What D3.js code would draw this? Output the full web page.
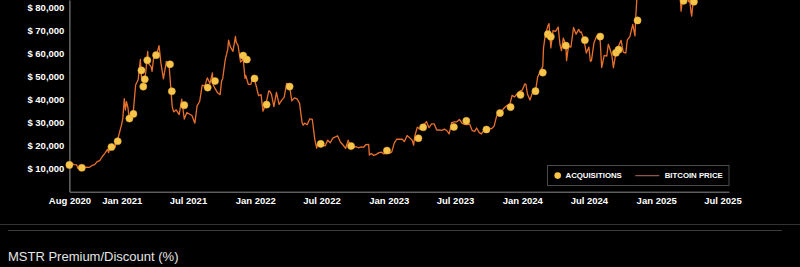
<!DOCTYPE html>
<html>
<head>
<meta charset="utf-8">
<script src="https://cdn.jsdelivr.net/npm/d3@7"></script>
<style>
  html, body { margin: 0; padding: 0; background: #000; }
  svg { display: block; }
</style>
</head>
<body>
<svg id="chart" width="800" height="267"></svg>
<script>
// ---- DATA ----
const xTickLabels = ["Aug 2020","Jan 2021","Jul 2021","Jan 2022","Jul 2022","Jan 2023","Jul 2023","Jan 2024","Jul 2024","Jan 2025","Jul 2025"];
const xTickDates = ["2020-08-11","2021-01-01","2021-07-01","2022-01-01","2022-07-01","2023-01-01","2023-07-01","2024-01-01","2024-07-01","2025-01-01","2025-07-01"];
const yTickValues = [10000,20000,30000,40000,50000,60000,70000,80000];
const legendLabels = ["ACQUISITIONS","BITCOIN PRICE"];
const subTitle = "MSTR Premium/Discount (%)";

// Bitcoin price (USD)
const btcPrice = [
["2020-08-11",11400],["2020-08-17",12250],["2020-08-24",11750],["2020-08-31",11650],["2020-09-03",10200],["2020-09-07",10100],
["2020-09-14",10650],["2020-09-21",10450],["2020-09-28",10700],["2020-10-05",10600],["2020-10-12",11400],["2020-10-19",11750],
["2020-10-26",13050],["2020-11-02",13550],["2020-11-09",15300],["2020-11-16",16700],["2020-11-23",18400],["2020-11-26",17000],
["2020-11-30",19700],["2020-12-07",19150],["2020-12-14",19250],["2020-12-17",22800],["2020-12-21",22700],["2020-12-28",27000],
["2021-01-01",29400],["2021-01-04",31900],["2021-01-08",40500],["2021-01-11",35500],["2021-01-14",39200],["2021-01-18",36600],
["2021-01-22",30800],["2021-01-25",32300],["2021-02-01",33500],["2021-02-08",46400],["2021-02-15",48700],["2021-02-21",57500],
["2021-02-24",49700],["2021-03-01",49600],["2021-03-05",48900],["2021-03-08",52300],["2021-03-13",61000],["2021-03-15",55800],
["2021-03-22",54500],["2021-03-25",52300],["2021-03-29",57800],["2021-04-05",58900],["2021-04-13",63500],["2021-04-18",56100],
["2021-04-25",49100],["2021-05-03",56600],["2021-05-10",55800],["2021-05-13",49700],["2021-05-19",37000],["2021-05-23",34700],
["2021-05-30",35600],["2021-06-07",33500],["2021-06-14",40200],["2021-06-21",31600],["2021-06-28",34400],["2021-07-05",33800],
["2021-07-12",33100],["2021-07-20",29800],["2021-07-26",37300],["2021-08-02",39200],["2021-08-09",46300],["2021-08-16",45900],
["2021-08-23",49500],["2021-08-30",47000],["2021-09-06",51700],["2021-09-07",46800],["2021-09-13",44900],["2021-09-20",43000],
["2021-09-27",42200],["2021-10-01",48200],["2021-10-04",49100],["2021-10-11",57400],["2021-10-18",62000],["2021-10-20",65900],
["2021-10-25",63000],["2021-11-01",61000],["2021-11-08",67500],["2021-11-10",64900],["2021-11-15",63600],["2021-11-22",56300],
["2021-11-29",57800],["2021-12-04",49300],["2021-12-06",50600],["2021-12-13",46700],["2021-12-20",46700],["2021-12-27",50600],
["2022-01-03",46400],["2022-01-10",41800],["2022-01-17",42200],["2022-01-22",35000],["2022-01-31",38500],["2022-02-07",43800],
["2022-02-10",43600],["2022-02-14",42500],["2022-02-21",37000],["2022-02-28",43200],["2022-03-07",38000],["2022-03-14",39700],
["2022-03-21",41000],["2022-03-28",47100],["2022-04-04",46600],["2022-04-11",39500],["2022-04-18",40800],["2022-04-25",40400],
["2022-05-02",38500],["2022-05-09",30000],["2022-05-12",28900],["2022-05-16",29800],["2022-05-23",29100],["2022-05-30",31700],
["2022-06-06",31400],["2022-06-13",22500],["2022-06-18",19000],["2022-06-20",20500],["2022-06-27",20700],["2022-07-04",20200],
["2022-07-11",19900],["2022-07-18",22400],["2022-07-25",21300],["2022-08-01",23300],["2022-08-08",23800],["2022-08-14",24300],
["2022-08-22",21500],["2022-08-29",20300],["2022-09-05",18800],["2022-09-12",22400],["2022-09-19",19500],["2022-09-26",19100],
["2022-10-03",19600],["2022-10-10",19100],["2022-10-17",19500],["2022-10-24",19300],["2022-10-31",20500],["2022-11-07",20600],
["2022-11-09",15900],["2022-11-14",16600],["2022-11-21",15800],["2022-11-28",16200],["2022-12-05",17000],["2022-12-12",17200],
["2022-12-19",16400],["2022-12-26",16900],["2023-01-02",16700],["2023-01-09",17200],["2023-01-16",21100],["2023-01-23",22900],
["2023-01-30",22800],["2023-02-06",22900],["2023-02-13",21800],["2023-02-20",24400],["2023-02-27",23500],["2023-03-06",22400],
["2023-03-10",20200],["2023-03-13",24100],["2023-03-20",28100],["2023-03-27",27100],["2023-04-03",28200],["2023-04-10",29700],
["2023-04-14",30500],["2023-04-21",27800],["2023-04-28",29500],["2023-05-05",29500],["2023-05-12",26800],["2023-05-19",26900],
["2023-05-26",26700],["2023-06-02",27200],["2023-06-09",26500],["2023-06-15",25100],["2023-06-22",30000],["2023-06-29",30400],
["2023-07-06",30400],["2023-07-13",31400],["2023-07-20",29800],["2023-07-27",29300],["2023-08-03",29200],["2023-08-10",29400],
["2023-08-17",26600],["2023-08-24",26200],["2023-08-29",27700],["2023-09-05",25800],["2023-09-11",25100],["2023-09-18",26800],
["2023-09-25",26300],["2023-10-02",27500],["2023-10-09",27400],["2023-10-16",28500],["2023-10-23",33000],["2023-10-30",34500],
["2023-11-06",35000],["2023-11-13",36500],["2023-11-20",37500],["2023-11-27",37200],["2023-12-04",41900],["2023-12-11",41200],
["2023-12-18",42600],["2023-12-25",43600],["2024-01-01",44200],["2024-01-08",46900],["2024-01-11",46600],["2024-01-15",42500],
["2024-01-22",39900],["2024-01-29",43300],["2024-02-05",42600],["2024-02-12",49900],["2024-02-19",52300],["2024-02-26",54500],
["2024-02-28",62500],["2024-03-04",68300],["2024-03-11",72100],["2024-03-14",73100],["2024-03-19",62500],["2024-03-25",70000],
["2024-04-01",69700],["2024-04-08",71600],["2024-04-13",64000],["2024-04-17",61300],["2024-04-22",66800],["2024-04-29",63800],
["2024-05-01",57000],["2024-05-06",63200],["2024-05-13",62900],["2024-05-20",71400],["2024-05-27",68500],["2024-06-03",70600],
["2024-06-07",69300],["2024-06-10",69500],["2024-06-17",66500],["2024-06-24",60300],["2024-07-01",62900],["2024-07-05",56700],
["2024-07-08",57000],["2024-07-15",64800],["2024-07-22",67600],["2024-07-29",66800],["2024-08-01",65300],["2024-08-05",54000],
["2024-08-12",59300],["2024-08-19",59000],["2024-08-23",64100],["2024-08-26",62900],["2024-09-02",59100],["2024-09-06",53900],
["2024-09-13",60500],["2024-09-20",63200],["2024-09-27",65800],["2024-10-03",60700],["2024-10-10",60300],["2024-10-14",66000],
["2024-10-21",67400],["2024-10-29",72700],["2024-11-04",67800],["2024-11-06",75600],["2024-11-11",88700],["2024-11-18",90500],
["2024-11-22",98900],["2024-12-02",96000],["2024-12-09",97000],["2024-12-16",106000],["2024-12-23",94700],["2024-12-30",92800],
["2025-01-06",102000],["2025-01-13",94500],["2025-01-20",102000],["2025-01-27",102000],["2025-02-03",101000],["2025-02-10",97500],
["2025-02-17",95500],["2025-02-24",91500],["2025-02-28",84300],["2025-03-03",86200],["2025-03-06",90000],["2025-03-10",78500],
["2025-03-14",84000],["2025-03-17",82700],["2025-03-20",84200],["2025-03-24",87500],["2025-03-28",84300],["2025-03-31",82500],
["2025-04-03",83200],["2025-04-06",78200],["2025-04-08",76300],["2025-04-10",79600],["2025-04-14",84500],["2025-04-18",84500],
["2025-04-22",93500],["2025-04-28",95000],["2025-05-05",94700],["2025-05-12",102800]
];

// Acquisitions: date and average purchase price (USD)
const acqDates = ["2020-08-11","2020-09-14","2020-12-04","2020-12-21","2021-01-22","2021-02-02","2021-02-24","2021-03-01","2021-03-05","2021-03-12",
  "2021-04-05","2021-05-13","2021-05-18","2021-06-21","2021-08-24","2021-09-13","2021-11-29","2021-12-09","2021-12-30","2022-02-01",
  "2022-04-05","2022-06-29","2022-09-20","2022-12-27","2023-03-23","2023-04-05","2023-06-28","2023-08-01","2023-09-25","2023-11-01",
  "2023-11-30","2023-12-27","2024-02-06","2024-02-26","2024-03-11","2024-03-19","2024-04-29","2024-06-20","2024-08-01","2024-09-13",
  "2024-09-20","2024-11-11","2025-03-17","2025-04-14"];
const acqPrices = [11652,10419,19427,21925,31808,33810,52765,45710,48888,57146,
  59339,55387,43663,37617,45294,48099,59187,57477,49229,37865,
  45714,20817,19851,17871,23238,28016,28136,30835,27053,34204,
  36785,42110,43723,51813,68477,67382,63500,65883,67455,60408,
  61750,74463,82981,82618];

// ---- CHART ----
const parse = d3.utcParse("%Y-%m-%d");
const svg = d3.select("#chart");
const W = 800, H = 267;
svg.append("rect").attr("width", W).attr("height", H).attr("fill", "#000");

const x = d3.scaleUtc()
  .domain([parse("2020-08-11"), parse("2025-07-19")])
  .range([69.4, 729]);
const y = d3.scaleLinear()
  .domain([0, 83350])
  .range([191.7, 0]);

const fontFamily = "'Liberation Sans', Arial, Helvetica, sans-serif";

// X axis
const xAxis = d3.axisBottom(x)
  .tickValues(xTickDates.map(parse))
  .tickFormat((d, i) => xTickLabels[i])
  .tickSize(0).tickSizeOuter(0).tickPadding(6);
const gx = svg.append("g").attr("transform", `translate(0,${y(0)})`).call(xAxis);
gx.select(".domain").attr("stroke", "#8a8a8a").attr("stroke-width", 1);
gx.selectAll("text").attr("fill", "#fff").attr("font-size", "9.5px")
  .attr("font-weight", "bold").attr("font-family", fontFamily);

// Y axis
const yAxis = d3.axisLeft(y)
  .tickValues(yTickValues)
  .tickFormat(d => "$ " + d3.format(",")(d))
  .tickSize(0).tickSizeOuter(0).tickPadding(5);
const gy = svg.append("g").attr("transform", `translate(${x.range()[0]},0)`).call(yAxis);
gy.select(".domain").attr("stroke", "#9a9a9a").attr("stroke-width", 1);
gy.selectAll("text").attr("fill", "#fff").attr("font-size", "9.5px")
  .attr("font-weight", "bold").attr("font-family", fontFamily);

// Bitcoin price line
const line = d3.line()
  .x(d => x(parse(d[0])))
  .y(d => y(d[1]));
svg.append("path")
  .datum(btcPrice)
  .attr("fill", "none")
  .attr("stroke", "#e8702c")
  .attr("stroke-width", 1.3)
  .attr("stroke-linejoin", "round")
  .attr("d", line);

// Acquisition dots
svg.append("g").selectAll("circle")
  .data(acqDates.map((d, i) => ({date: parse(d), price: acqPrices[i]})))
  .join("circle")
  .attr("cx", d => x(d.date))
  .attr("cy", d => y(d.price))
  .attr("r", 3.6)
  .attr("fill", "#f7c549")
  .attr("stroke", "#e0a83a")
  .attr("stroke-width", 0.5);

// Legend
const lg = svg.append("g");
lg.append("rect").attr("x", 547.5).attr("y", 165.5).attr("width", 181.5).attr("height", 20)
  .attr("fill", "#000").attr("stroke", "#4a4a4a").attr("stroke-width", 1);
lg.append("circle").attr("cx", 557.7).attr("cy", 175.6).attr("r", 3.3).attr("fill", "#f7c549");
lg.append("text").attr("x", 565.5).attr("y", 178.4).text(legendLabels[0])
  .attr("fill", "#fff").attr("font-size", "7.8px").attr("font-weight", "bold").attr("font-family", fontFamily);
lg.append("line").attr("x1", 635.3).attr("x2", 659.3).attr("y1", 175.6).attr("y2", 175.6)
  .attr("stroke", "#8c5a4a").attr("stroke-width", 1.3);
lg.append("text").attr("x", 664.7).attr("y", 178.4).text(legendLabels[1])
  .attr("fill", "#fff").attr("font-size", "7.8px").attr("font-weight", "bold").attr("font-family", fontFamily);

// Separator lines and sub-title
svg.append("line").attr("x1", 0).attr("x2", W).attr("y1", 224.5).attr("y2", 224.5)
  .attr("stroke", "#333").attr("stroke-width", 1);
svg.append("line").attr("x1", 8).attr("x2", 782).attr("y1", 230.5).attr("y2", 230.5)
  .attr("stroke", "#3c3c3c").attr("stroke-width", 1);
svg.append("text").attr("x", 8).attr("y", 260.7).text(subTitle)
  .attr("fill", "#e6e6e6").attr("font-size", "13px").attr("font-family", fontFamily);
</script>
</body>
</html>
